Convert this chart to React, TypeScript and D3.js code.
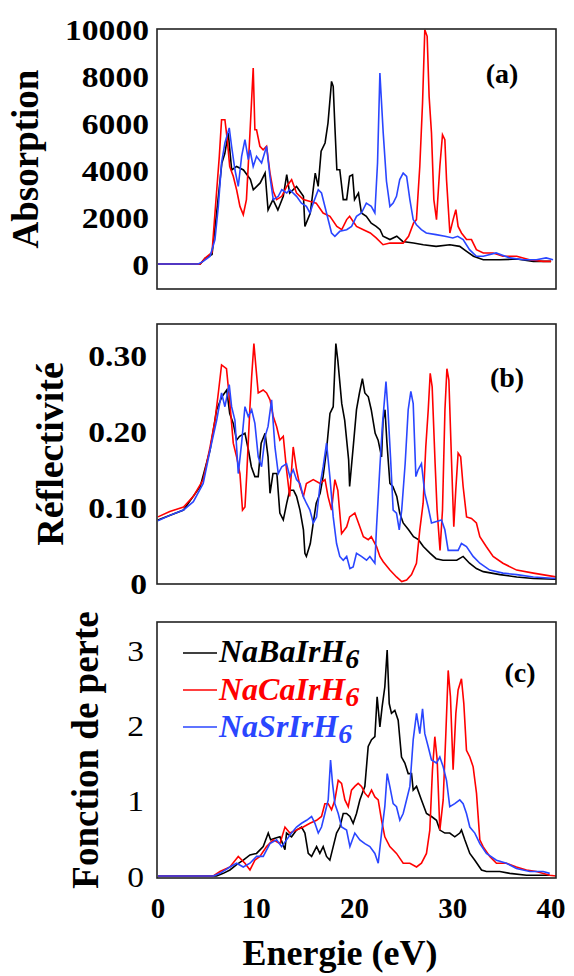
import React from "react";
import * as d3 from "d3";

// ---------- data (energy in eV, value) ----------
const absBa: [number, number][] = [[0,0],[4.3,0],[4.8,250],[5.5,400],[6.0,2300],[6.5,4300],[6.8,4700],[7.15,5570],[7.5,4000],[8.0,4150],[8.7,4000],[9.4,3600],[9.7,3160],[10.4,3450],[10.9,3870],[11.2,2300],[11.7,2740],[12.2,2300],[12.75,2880],[13.1,3800],[13.4,3020],[14.1,3300],[14.8,2880],[14.95,1600],[15.5,2170],[16.0,3870],[16.3,3300],[16.6,4800],[17.0,5150],[17.3,6000],[17.66,7770],[17.83,7560],[18.0,5860],[18.2,4010],[18.5,4010],[18.85,2740],[19.2,2740],[19.5,3730],[19.8,3800],[20.0,2740],[20.4,3020],[20.7,2170],[21.2,2030],[21.7,1740],[22.2,1600],[22.6,1460],[22.9,1180],[23.6,1040],[24.3,1180],[24.9,960],[26.0,890],[27.0,820],[28.3,750],[29.7,820],[30.7,750],[31.4,540],[32.1,330],[33.1,180],[34.8,180],[36.5,210],[38.2,110],[40.0,110]];
const absCa: [number, number][] = [[0,0],[4.3,0],[4.8,250],[5.5,500],[5.8,2170],[6.24,4580],[6.47,6140],[6.81,6140],[7.05,5290],[7.3,4150],[7.66,3730],[8.0,3160],[8.34,2450],[8.68,2100],[9.0,2740],[9.36,5570],[9.69,8340],[9.86,5710],[10.03,5710],[10.37,5010],[10.7,4860],[11.05,5010],[11.4,3870],[11.73,3090],[12.07,2740],[12.6,2880],[13.1,3300],[13.6,3590],[14.1,3020],[14.8,2740],[15.5,2660],[16.1,2590],[16.8,2170],[17.5,2030],[18.2,1600],[18.7,1460],[19.2,1890],[19.5,2030],[20.2,1600],[20.9,1460],[21.6,1320],[22.2,1110],[22.9,820],[23.6,890],[24.3,890],[24.95,890],[25.5,1180],[26.0,1740],[26.3,1890],[26.64,4150],[26.92,6850],[27.15,9970],[27.39,9690],[27.59,7130],[27.83,5570],[28.07,2740],[28.34,1890],[28.68,4150],[28.95,5500],[29.19,5290],[29.36,3590],[29.7,1320],[30.03,1890],[30.31,2310],[30.54,1600],[30.88,1320],[31.4,1040],[31.9,1040],[32.4,610],[33.1,470],[34.1,470],[35.1,330],[36.5,330],[37.8,180],[39.2,110],[40.0,110]];
const absSr: [number, number][] = [[0,0],[4.1,0],[4.6,110],[5.3,330],[5.8,1040],[6.14,2450],[6.47,4300],[6.81,5150],[7.25,5790],[7.49,5010],[7.83,4010],[8.17,3300],[8.51,4580],[8.85,5290],[9.19,4440],[9.36,4860],[9.69,4150],[10.03,4580],[10.54,4300],[11.05,5010],[11.39,3730],[11.73,2740],[12.24,2880],[12.6,3160],[13.1,3020],[13.4,3160],[14.1,2880],[14.6,2590],[15.1,2450],[15.46,2170],[15.8,2590],[16.31,3160],[16.64,3020],[17.15,2170],[17.66,1320],[18.0,1180],[18.5,1390],[19.2,1460],[19.7,1600],[20.2,2030],[20.7,2170],[21.2,2590],[21.7,2450],[22.07,2170],[22.34,4300],[22.58,8130],[22.92,5570],[23.25,3520],[23.6,2450],[23.93,2590],[24.27,2880],[24.6,3590],[24.95,3870],[25.3,3730],[25.63,2740],[25.97,1890],[26.3,1670],[26.8,1460],[27.3,1320],[28.3,1250],[29.2,1180],[30.0,1110],[30.5,1180],[31.05,1040],[31.7,610],[32.4,330],[33.1,330],[34.4,470],[35.8,260],[37.2,180],[38.5,180],[39.5,260],[40.2,180]];

const refBa: [number, number][] = [[0,.083],[2.6,.096],[4.3,.127],[5.3,.175],[5.97,.228],[6.5,.245],[7.0,.254],[7.3,.223],[7.66,.210],[8.0,.188],[8.3,.193],[8.85,.197],[9.2,.175],[9.5,.153],[9.86,.140],[10.2,.140],[10.5,.184],[10.9,.197],[11.2,.166],[11.4,.118],[11.7,.144],[12.1,.144],[12.4,.092],[12.75,.083],[13.1,.105],[13.4,.122],[13.8,.122],[14.1,.114],[14.45,.096],[14.8,.070],[14.95,.039],[15.1,.035],[15.5,.052],[15.8,.079],[16.1,.105],[16.5,.118],[16.8,.140],[17.15,.175],[17.5,.223],[17.83,.232],[18.1,.315],[18.3,.293],[18.7,.236],[19.0,.214],[19.4,.162],[19.5,.127],[19.9,.184],[20.2,.228],[20.5,.250],[20.8,.269],[21.05,.250],[21.4,.245],[21.7,.228],[22.1,.197],[22.4,.188],[22.75,.166],[22.9,.214],[23.1,.228],[23.3,.184],[23.6,.131],[23.9,.127],[24.3,.114],[24.6,.092],[24.95,.079],[25.5,.070],[26.0,.061],[26.5,.057],[27.0,.048],[27.7,.039],[28.3,.032],[29.0,.030],[29.7,.030],[30.4,.030],[31.05,.035],[31.7,.026],[32.4,.019],[33.1,.015],[34.8,.011],[36.5,.008],[38.2,.006],[40.5,.005]];
const refCa: [number, number][] = [[0,.087],[1.2,.094],[2.6,.100],[3.6,.114],[4.6,.136],[5.3,.179],[5.8,.214],[6.14,.250],[6.47,.287],[6.97,.282],[7.32,.236],[7.66,.184],[8.0,.166],[8.34,.144],[8.6,.096],[8.85,.100],[9.02,.140],[9.36,.232],[9.53,.271],[9.76,.315],[9.96,.285],[10.2,.250],[10.7,.254],[11.05,.250],[11.4,.241],[11.73,.219],[12.07,.206],[12.4,.188],[12.75,.193],[13.08,.149],[13.4,.114],[13.76,.179],[14.1,.149],[14.45,.127],[14.8,.114],[15.1,.131],[15.8,.136],[16.5,.131],[17.0,.136],[17.3,.114],[17.66,.096],[18.0,.136],[18.3,.122],[18.68,.065],[19.2,.074],[19.5,.087],[20.03,.092],[20.4,.079],[20.9,.061],[21.4,.057],[21.7,.061],[22.24,.048],[22.58,.035],[22.92,.028],[23.6,.017],[24.27,.008],[24.8,.002],[25.3,.004],[25.8,.011],[26.3,.026],[26.64,.070],[26.98,.105],[27.25,.179],[27.5,.228],[27.7,.276],[27.9,.258],[28.2,.157],[28.4,.096],[28.7,.043],[28.95,.096],[29.2,.228],[29.4,.282],[29.6,.267],[29.9,.149],[30.1,.074],[30.3,.122],[30.54,.171],[30.8,.166],[31.05,.127],[31.4,.087],[31.9,.085],[32.4,.079],[32.75,.061],[33.4,.048],[34.1,.035],[35.1,.026],[36.5,.017],[38.2,.013],[40.5,.008]];
const refSr: [number, number][] = [[0,.082],[1.2,.089],[2.6,.096],[3.6,.107],[4.6,.131],[5.3,.175],[5.97,.214],[6.47,.250],[6.81,.232],[7.25,.261],[7.49,.232],[7.83,.214],[8.17,.144],[8.51,.184],[8.85,.232],[9.19,.219],[9.53,.228],[9.86,.210],[10.2,.166],[10.54,.153],[10.9,.193],[11.2,.206],[11.56,.241],[11.9,.179],[12.24,.144],[12.6,.153],[13.08,.157],[13.42,.140],[13.76,.149],[14.1,.136],[14.45,.131],[14.78,.114],[15.1,.105],[15.46,.096],[15.8,.079],[16.14,.087],[16.47,.127],[16.81,.153],[17.15,.184],[17.49,.140],[17.83,.087],[18.17,.052],[18.5,.035],[18.85,.030],[19.2,.035],[19.53,.019],[19.86,.021],[20.2,.039],[20.7,.035],[21.22,.030],[21.56,.035],[22.07,.026],[22.24,.074],[22.58,.153],[22.85,.210],[23.2,.265],[23.4,.228],[23.66,.166],[23.93,.096],[24.27,.092],[24.55,.070],[24.8,.096],[25.15,.157],[25.46,.228],[25.73,.252],[25.97,.236],[26.24,.140],[26.47,.149],[26.81,.157],[27.15,.118],[27.49,.100],[27.83,.079],[28.34,.081],[28.85,.083],[29.19,.070],[29.53,.043],[30.03,.043],[30.54,.043],[30.88,.052],[31.39,.048],[32.07,.035],[32.75,.026],[33.76,.017],[35.1,.013],[36.5,.011],[38.2,.008],[40.5,.006]];

const lossBa: [number, number][] = [[0,0],[5.97,0],[6.64,.035],[7.32,.08],[8.0,.15],[8.68,.21],[9.36,.28],[10.03,.30],[10.71,.39],[11.22,.57],[11.46,.48],[11.9,.50],[12.41,.52],[12.92,.35],[13.08,.57],[13.59,.52],[14.1,.61],[14.61,.65],[14.95,.57],[15.29,.30],[15.63,.26],[16.14,.39],[16.47,.30],[16.81,.39],[17.15,.26],[17.49,.21],[17.83,.39],[18.17,.57],[18.51,.65],[18.85,.83],[19.19,.83],[19.53,.79],[19.86,.70],[20.2,.83],[20.54,1.01],[21.05,1.19],[21.39,1.72],[21.73,1.81],[22.07,1.85],[22.3,2.38],[22.58,1.98],[22.81,2.25],[23.08,2.51],[23.32,3.0],[23.53,2.29],[23.76,2.16],[24.1,2.20],[24.44,2.07],[24.78,1.58],[25.12,1.50],[25.46,1.36],[25.8,1.36],[25.97,1.14],[26.31,1.19],[26.81,1.01],[27.32,0.83],[27.83,0.79],[28.34,0.74],[28.68,0.61],[29.19,0.57],[29.69,0.57],[30.2,0.52],[30.71,0.57],[30.88,0.61],[31.22,0.48],[31.73,0.30],[32.24,0.21],[32.92,0.08],[33.42,0.06],[34.78,0.06],[35.8,0.035],[37.5,0.01],[39.86,0.01]];
const lossCa: [number, number][] = [[0,0],[5.63,0],[6.31,.06],[7.32,.12],[8.17,.26],[8.85,.17],[9.36,.08],[9.86,.21],[10.37,.26],[11.05,.39],[11.73,.48],[12.41,.43],[12.92,.65],[13.42,.57],[14.1,.61],[14.78,.65],[15.46,.70],[16.14,.74],[16.64,.79],[16.98,.96],[17.32,.96],[17.66,.88],[18.0,1.01],[18.34,1.27],[18.68,1.23],[19.02,1.01],[19.36,.92],[19.69,1.14],[20.03,1.19],[20.37,1.23],[20.71,1.19],[21.05,1.10],[21.39,1.05],[21.73,1.14],[22.07,1.05],[22.41,1.01],[22.75,.74],[23.08,.52],[23.59,.39],[24.27,.30],[24.95,.17],[25.63,.17],[26.31,.12],[26.81,.17],[27.32,.30],[27.66,.61],[27.93,1.41],[28.17,1.85],[28.41,1.54],[28.68,.61],[29.02,1.01],[29.29,1.89],[29.53,2.73],[29.76,2.38],[30.03,1.41],[30.31,2.16],[30.54,2.47],[30.88,2.62],[31.12,2.29],[31.39,1.67],[31.73,1.58],[32.07,1.45],[32.41,1.10],[32.75,.48],[33.08,.39],[33.76,.26],[34.44,.17],[35.46,.17],[36.47,.12],[37.49,.08],[38.5,.06],[39.86,.01],[40.5,0]];
const lossSr: [number, number][] = [[0,0],[5.63,0],[6.31,.035],[7.32,.12],[8.0,.17],[8.68,.12],[9.36,.17],[10.03,.26],[10.71,.26],[11.39,.43],[12.07,.48],[12.58,.39],[13.08,.48],[13.59,.57],[14.1,.65],[14.61,.70],[15.12,.74],[15.63,.79],[15.97,.70],[16.31,.57],[16.64,.65],[16.98,.83],[17.32,1.01],[17.56,1.54],[17.76,1.23],[18.0,.96],[18.34,.83],[18.68,.65],[19.19,.61],[19.53,.39],[20.03,.57],[20.54,.48],[21.05,.43],[21.56,.39],[22.07,.30],[22.41,.17],[22.75,.57],[23.08,.92],[23.32,1.36],[23.59,1.19],[23.93,.96],[24.27,.92],[24.61,.74],[24.95,.83],[25.29,1.01],[25.63,1.19],[25.97,1.81],[26.31,2.16],[26.64,1.89],[26.92,2.22],[27.15,1.89],[27.49,1.72],[27.83,1.54],[28.34,1.50],[28.68,1.58],[29.02,1.45],[29.36,1.27],[29.69,.92],[30.2,.96],[30.71,1.01],[31.05,.96],[31.39,.83],[31.73,.65],[32.24,.57],[32.75,.43],[33.42,.30],[34.44,.21],[35.46,.17],[36.47,.10],[37.83,.06],[39.19,.06],[39.86,.035]];

const xTicks = [0, 10, 20, 30, 40];
const absTicks = [0, 2000, 4000, 6000, 8000, 10000];
const refTicks = [0, 0.1, 0.2, 0.3];
const lossTicks = [0, 1, 2, 3];
const compounds = ["NaBaIrH", "NaCaIrH", "NaSrIrH"];
const colors = ["#000000", "#ff0000", "#2a46ff"];

const FONT = "'Liberation Serif', 'Times New Roman', serif";

const x = d3.scaleLinear().domain([-0.1, 40.5]).range([157, 556]);

type Panel = {
  top: number;
  bottom: number;
  domain: [number, number];
  series: [number, number][][];
  ticks: number[];
  fmt: (v: number) => string;
  tickWeight: string;
  tickX: number;
  title: string;
  titleX: number;
  titleSize: number;
  tag: string;
  tagX: number;
  tagY: number;
};

const panels: Panel[] = [
  { top: 29, bottom: 289, domain: [-1064, 10000], series: [absBa, absCa, absSr], ticks: absTicks, fmt: (v) => String(v), tickWeight: "bold", tickX: 149, title: "Absorption", titleX: 38, titleSize: 37, tag: "(a)", tagX: 502, tagY: 83 },
  { top: 324, bottom: 584, domain: [-0.0013, 0.3408], series: [refBa, refCa, refSr], ticks: refTicks, fmt: (v) => (v === 0 ? "0" : v.toFixed(2)), tickWeight: "bold", tickX: 147, title: "Réflectivité", titleX: 63, titleSize: 38, tag: "(b)", tagX: 507, tagY: 387 },
  { top: 622, bottom: 878, domain: [-0.0266, 3.373], series: [lossBa, lossCa, lossSr], ticks: lossTicks, fmt: (v) => String(v), tickWeight: "normal", tickX: 144, title: "Fonction de perte", titleX: 98, titleSize: 37, tag: "(c)", tagX: 520, tagY: 682 },
];

export default function App() {
  return (
    <div style={{ position: "absolute", left: 0, top: 0 }}>
      <svg width={574} height={976} style={{ display: "block", background: "#fff" }}>
        {panels.map((p, i) => {
          const y = d3.scaleLinear().domain(p.domain).range([p.bottom, p.top]);
          const line = d3
            .line<[number, number]>()
            .x((d) => x(d[0]))
            .y((d) => y(d[1]));
          const mid = (p.top + p.bottom) / 2;
          return (
            <g key={i}>
              <defs>
                <clipPath id={`clip${i}`}>
                  <rect x={157} y={p.top} width={399} height={p.bottom - p.top} />
                </clipPath>
              </defs>
              <g clipPath={`url(#clip${i})`}>
                {p.series.map((s, j) => (
                  <path key={j} d={line(s) || ""} fill="none" stroke={colors[j]} strokeWidth={1.6} strokeLinejoin="miter" />
                ))}
              </g>
              <rect x={157} y={p.top} width={399} height={p.bottom - p.top} fill="none" stroke="#222" strokeWidth={1.6} />
              {p.ticks.map((t) => (
                <text key={t} transform={`translate(${p.tickX},${y(t)}) scale(1.12,1)`} dy="0.35em" textAnchor="end" fontFamily={FONT} fontWeight={p.tickWeight} fontSize={30}>
                  {p.fmt(t)}
                </text>
              ))}
              <text transform={`translate(${p.titleX},${mid}) rotate(-90)`} textAnchor="middle" fontFamily={FONT} fontWeight="bold" fontSize={p.titleSize}>
                {p.title}
              </text>
              <text x={p.tagX} y={p.tagY} textAnchor="middle" fontFamily={FONT} fontWeight="bold" fontSize={28}>
                {p.tag}
              </text>
            </g>
          );
        })}
        {xTicks.map((t) => (
          <text key={t} x={x(t)} y={918} textAnchor="middle" fontFamily={FONT} fontWeight="bold" fontSize={29}>
            {t}
          </text>
        ))}
        <text x={340} y={965} textAnchor="middle" fontFamily={FONT} fontWeight="bold" fontSize={36}>
          Energie (eV)
        </text>
        {compounds.map((c, j) => (
          <g key={c}>
            <line x1={183} x2={217} y1={653 + j * 37} y2={653 + j * 37} stroke={colors[j]} strokeWidth={1.6} />
            <text x={219} y={662 + j * 37.5} fontFamily={FONT} fontWeight="bold" fontStyle="italic" fontSize={32} fill={colors[j]}>
              {c}
              <tspan dy={6} fontSize={28}>6</tspan>
            </text>
          </g>
        ))}
      </svg>
    </div>
  );
}
